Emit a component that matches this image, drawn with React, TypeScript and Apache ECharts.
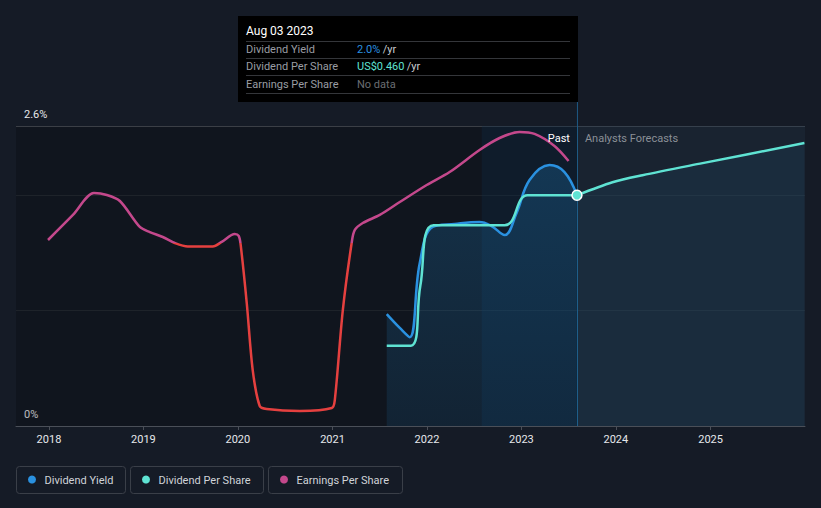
import React, { useEffect, useRef } from "react";
import * as echarts from "echarts";

// [decimal year, dividend yield %]
const dividendYield: [number, number][] = [
  [2021.574, 0.97], [2021.712, 0.85], [2021.817, 0.77], [2021.923, 1.41],
  [2022.06, 1.725], [2022.293, 1.751], [2022.557, 1.768], [2022.684, 1.733],
  [2022.822, 1.655], [2022.949, 1.846], [2023.086, 2.132], [2023.298, 2.262],
  [2023.456, 2.201], [2023.588, 2.0],
];
// [decimal year, dividend per share US$]
const dpsPast: [number, number][] = [
  [2021.574, 0.16], [2021.83, 0.16], [2021.93, 0.28], [2022.07, 0.4],
  [2022.822, 0.4], [2023.065, 0.46], [2023.588, 0.46],
];
const dpsForecast: [number, number][] = [
  [2023.588, 0.46], [2023.964, 0.486], [2024.281, 0.5], [2024.916, 0.524], [2025.994, 0.564],
];
// [decimal year, earnings per share]
const eps: [number, number][] = [
  [2017.99, 1.612], [2018.254, 1.829], [2018.476, 2.019], [2018.613, 2.002],
  [2018.751, 1.95], [2018.962, 1.725], [2019.068, 1.681], [2019.205, 1.638],
  [2019.332, 1.586], [2019.47, 1.556], [2019.734, 1.556], [2019.829, 1.595],
  [2019.967, 1.664], [2020.009, 1.647], [2020.03, 1.569], [2020.094, 1.066],
  [2020.157, 0.485], [2020.231, 0.173], [2020.305, 0.147], [2020.654, 0.13],
  [2020.992, 0.156], [2021.024, 0.225], [2021.109, 1.005], [2021.204, 1.595],
  [2021.236, 1.699], [2021.32, 1.759], [2021.5, 1.829], [2021.712, 1.941],
  [2021.997, 2.089], [2022.24, 2.201], [2022.557, 2.392], [2022.769, 2.496],
  [2022.98, 2.548], [2023.139, 2.531], [2023.35, 2.427], [2023.499, 2.297],
];
const epsThreshold = 1.59;
const xRange: [number, number] = [2017.651, 2026.0];
const bandStart = 2022.58;
const nowYear = 2023.588;
const yieldMax = 2.6;
const dpsMax = 0.598;

const tooltipTitle = "Aug 03 2023";
const tooltipRows = [
  { label: "Dividend Yield", value: "2.0%", unit: " /yr", color: "#2a91e0" },
  { label: "Dividend Per Share", value: "US$0.460", unit: " /yr", color: "#5fe3d3" },
  { label: "Earnings Per Share", value: "No data", unit: "", color: "#6b6e73" },
];
const legendItems = [
  { name: "Dividend Yield", color: "#2a91e0" },
  { name: "Dividend Per Share", color: "#5fe3d3" },
  { name: "Earnings Per Share", color: "#c4488c" },
];

const YEAR_MS = 365.25 * 24 * 3600 * 1000;
function yr(y: number) {
  const Y = Math.floor(y);
  const s = Date.UTC(Y, 0, 1);
  const e = Date.UTC(Y + 1, 0, 1);
  return s + (y - Y) * (e - s);
}
const toData = (arr: [number, number][]) => arr.map(([t, v]) => [yr(t), v]);

const FONT = "Roboto, 'Noto Sans', sans-serif";

function txt(text: string, x: number, y: number, fill: string, size = 11, align = "left", weight = "normal") {
  return {
    type: "text",
    z: 100,
    silent: true,
    style: {
      text, x, y, fill,
      font: `${weight} ${size}px ${FONT}`,
      fontSize: size, fontFamily: FONT, fontWeight: weight,
      textAlign: align, textVerticalAlign: "middle",
      align, verticalAlign: "middle",
    },
  };
}

export default function App() {
  const ref = useRef<HTMLDivElement>(null);
  useEffect(() => {
    if (!ref.current) return;
    const chart = echarts.init(ref.current, undefined, { renderer: "svg" });
    const option: any = {
      animation: false,
      useUTC: true,
      backgroundColor: "#151b26",
      grid: { left: 16, right: 16, top: 126, bottom: 82 },
      visualMap: {
        type: "piecewise",
        show: false,
        seriesIndex: 3,
        dimension: 1,
        pieces: [
          { gte: -10, lt: epsThreshold, color: "#e5403f" },
          { gte: epsThreshold, lte: 10, color: "#c4488c" },
        ],
      },
      xAxis: {
        type: "time",
        min: yr(xRange[0]),
        max: yr(xRange[1]),
        splitNumber: 8,
        minInterval: YEAR_MS * 0.99,
        maxInterval: YEAR_MS * 1.01,
        axisLine: { lineStyle: { color: "#4a4f58", width: 1 } },
        axisTick: { show: true, length: 4, lineStyle: { color: "#4a4f58" } },
        axisLabel: {
          color: "#e6e8eb",
          fontSize: 11,
          fontFamily: FONT,
          margin: 8,
          formatter: (v: number) => {
            const d = new Date(v);
            return d.getUTCMonth() === 0 && d.getUTCDate() === 1 ? String(d.getUTCFullYear()) : "";
          },
        },
        splitLine: { show: false },
      },
      yAxis: [
        {
          type: "value",
          min: 0,
          max: yieldMax,
          interval: 1,
          axisLine: { show: false },
          axisTick: { show: false },
          axisLabel: {
            inside: true,
            margin: 8,
            color: "#e6e8eb",
            fontSize: 11,
            fontFamily: FONT,
            verticalAlign: "bottom",
            padding: [0, 0, 6, 0],
            formatter: (v: number) => (v === 0 ? "0%" : Math.abs(v - yieldMax) < 1e-9 ? "2.6%" : ""),
          },
          splitLine: { lineStyle: { color: ["#4a4f58", "#262c35", "#262c35", "#4a4f58"], width: 1 } },
        },
        { type: "value", min: 0, max: dpsMax, show: false },
        { type: "value", min: 0, max: yieldMax, show: false },
      ],
      series: [
        {
          name: "Dividend Yield",
          type: "line",
          yAxisIndex: 0,
          data: toData(dividendYield),
          smooth: 0.4,
          symbol: "none",
          lineStyle: { color: "#2a91e0", width: 2.5 },
          itemStyle: { color: "#2a91e0" },
          areaStyle: {
            color: new echarts.graphic.LinearGradient(0, 0, 0, 1, [
              { offset: 0, color: "rgba(35,148,223,0.32)" },
              { offset: 1, color: "rgba(35,148,223,0.16)" },
            ]),
          },
          z: 3,
          markArea: {
            silent: true,
            data: [
              [{ xAxis: yr(xRange[0]), itemStyle: { color: "rgba(0,0,0,0.2)" } }, { xAxis: yr(bandStart) }],
              [{ xAxis: yr(bandStart), itemStyle: { color: "rgba(8,30,52,0.45)" } }, { xAxis: yr(nowYear) }],
              [{ xAxis: yr(nowYear), itemStyle: { color: "rgba(32,46,62,0.45)" } }, { xAxis: yr(xRange[1]) }],
            ],
          },
          markLine: {
            silent: true,
            symbol: "none",
            label: { show: false },
            lineStyle: { color: "#1e5a84", width: 1, type: "solid" },
            data: [{ xAxis: yr(nowYear) }],
          },
        },
        {
          name: "Dividend Per Share",
          type: "line",
          yAxisIndex: 1,
          data: dpsPast.map(([t, v], i) =>
            i === dpsPast.length - 1
              ? {
                  value: [yr(t), v],
                  symbol: "circle",
                  symbolSize: 10,
                  itemStyle: { color: "#5fe3d3", borderColor: "#ffffff", borderWidth: 1.5 },
                }
              : { value: [yr(t), v], symbol: "none" }
          ),
          smooth: 0.4,
          showSymbol: true,
          lineStyle: { color: "#5fe3d3", width: 2.5 },
          itemStyle: { color: "#5fe3d3" },
          z: 6,
        },
        {
          name: "Dividend Per Share Forecast",
          type: "line",
          yAxisIndex: 1,
          data: toData(dpsForecast),
          smooth: 0.3,
          symbol: "none",
          lineStyle: { color: "#5fe3d3", width: 2.5 },
          areaStyle: { color: "rgba(35,148,223,0.11)" },
          z: 5,
        },
        {
          name: "Earnings Per Share",
          type: "line",
          yAxisIndex: 2,
          data: toData(eps),
          smooth: 0.3,
          symbol: "none",
          lineStyle: { width: 2.5 },
          z: 4,
        },
      ],
    };
    chart.setOption(option);

    const nx = chart.convertToPixel({ xAxisIndex: 0 }, yr(nowYear)) as number;
    const graphics: any[] = [];
    graphics.push({
      type: "line", z: 1, silent: true,
      shape: { x1: nx + 0.5, y1: 101, x2: nx + 0.5, y2: 126 },
      style: { stroke: "#1e5a84", lineWidth: 1 },
    });
    graphics.push(txt("Past", nx - 7, 138, "#ffffff", 11, "right"));
    graphics.push(txt("Analysts Forecasts", nx + 8, 138, "#8b9097", 11, "left"));
    graphics.push({
      type: "rect", z: 90, silent: true,
      shape: { x: 238, y: 16, width: 340, height: 86 },
      style: { fill: "#000000" },
    });
    graphics.push(txt(tooltipTitle, 246, 31, "#ffffff", 12, "left", "normal"));
    const sepY = [41.5, 58.5, 75.5, 93.5];
    sepY.forEach((y) =>
      graphics.push({
        type: "line", z: 95, silent: true,
        shape: { x1: 246, y1: y, x2: 570, y2: y },
        style: { stroke: "#34363a", lineWidth: 1 },
      })
    );
    const rowY = [49.5, 66.5, 84];
    tooltipRows.forEach((r, i) => {
      graphics.push(txt(r.label, 246, rowY[i], "#9a9da3", 11));
      graphics.push(txt(r.value, 357, rowY[i], r.color, 11));
      if (r.unit) {
        const w = r.value.length === 4 ? 23 : 47;
        graphics.push(txt(r.unit, 357 + w, rowY[i], "#c9ccd0", 11));
      }
    });
    const boxes = [
      { x: 16.5, w: 109 },
      { x: 130.5, w: 133 },
      { x: 268.5, w: 134 },
    ];
    legendItems.forEach((l, i) => {
      const b = boxes[i];
      graphics.push({
        type: "rect", z: 90, silent: true,
        shape: { x: b.x, y: 466.5, width: b.w, height: 27, r: 3 },
        style: { fill: "transparent", stroke: "#3a3f48", lineWidth: 1 },
      });
      graphics.push({
        type: "circle", z: 91, silent: true,
        shape: { cx: b.x + 15.5, cy: 479.5, r: 4 },
        style: { fill: l.color },
      });
      graphics.push(txt(l.name, b.x + 28, 480, "#d0d3d8", 11));
    });
    chart.setOption({ graphic: graphics });

    return () => chart.dispose();
  }, []);
  return (
    <div
      ref={ref}
      style={{ position: "fixed", left: 0, top: 0, width: 821, height: 508, background: "#151b26" }}
    />
  );
}
